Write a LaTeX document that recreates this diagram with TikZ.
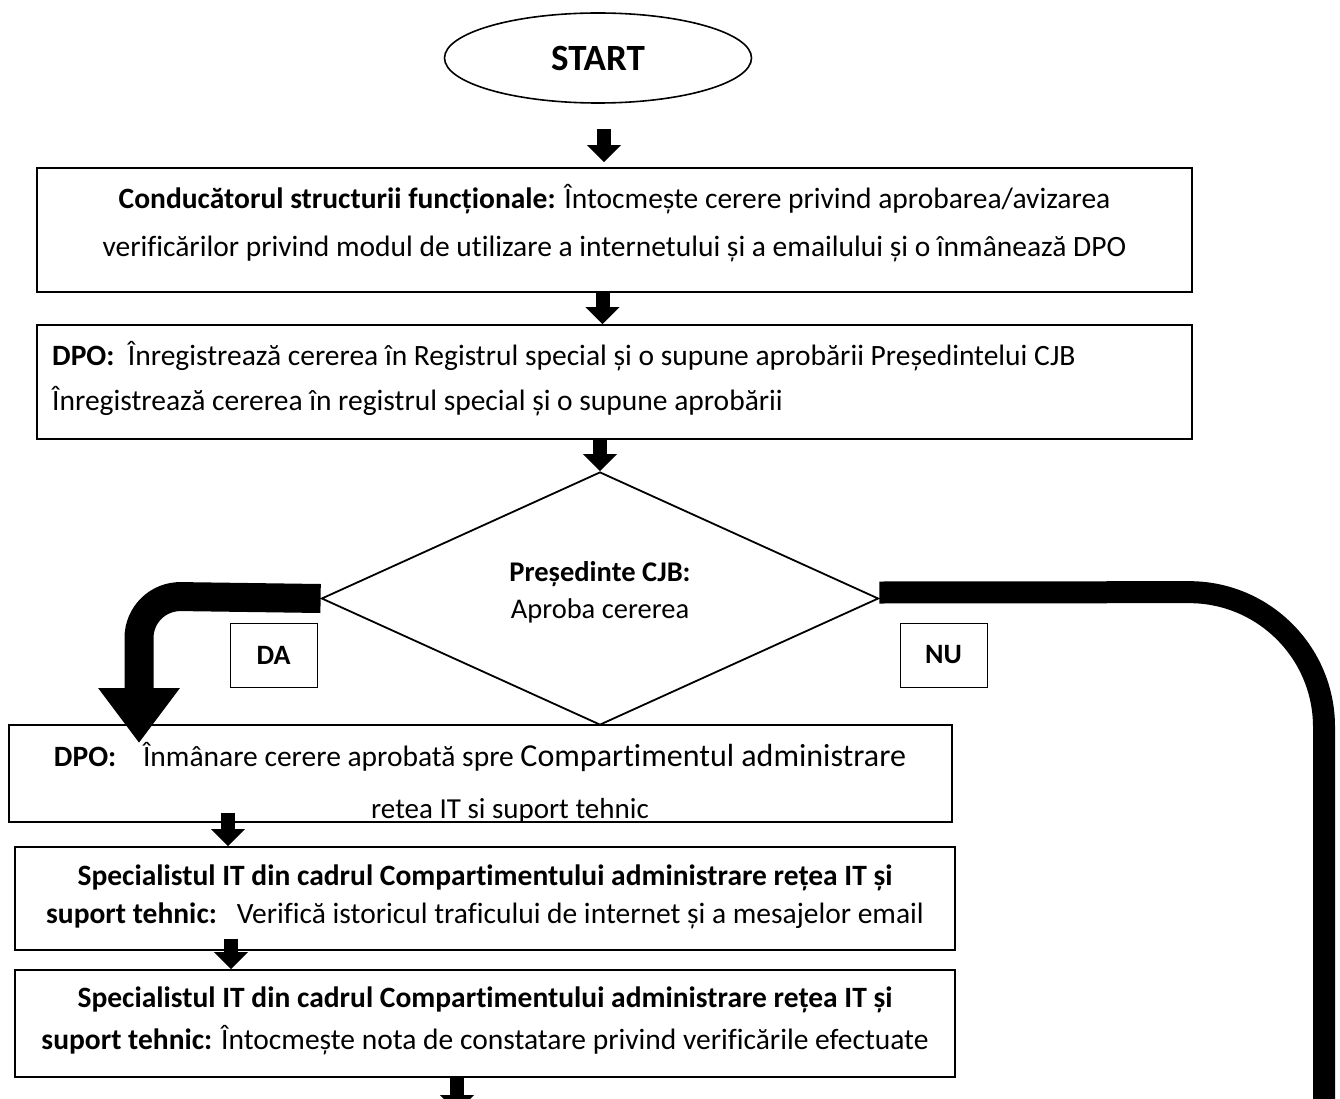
\documentclass[tikz,border=0pt]{standalone}
\usepackage{fontspec}
\setmainfont{Carlito}[Ligatures=NoCommon]
\usetikzlibrary{arrows.meta, positioning, shapes.geometric}

\begin{document}
\begin{tikzpicture}[x=1pt, y=-1pt,
    stepbox/.style={draw=black, line width=1.8pt, rectangle, inner sep=0pt},
    labelbox/.style={draw=black, line width=0.9pt, rectangle, inner sep=0pt,
        minimum width=87pt, minimum height=64pt,
        font=\fontsize{28}{30}\selectfont\bfseries},
    txt/.style={inner sep=0pt, align=center},
    flowarrow/.style={line width=14pt, -{Triangle[width=33pt,length=17pt]}},
    bigline/.style={line width=29pt}
]
    \useasboundingbox (0,0) rectangle (1340,1099);

    % start and boxes
    \node[ellipse, draw=black, line width=1.6pt, minimum width=307pt, minimum height=90pt,
        inner sep=0pt, font=\fontsize{37}{40}\selectfont\bfseries] (start) at (598,58) {START};
    \node[stepbox, minimum width=1155pt, minimum height=124pt] (cond) at (614.5,230) {};
    \node[stepbox, minimum width=1155pt, minimum height=114pt] (reg) at (614.5,382) {};
    \node[diamond, draw=black, line width=1.8pt, minimum width=557pt, minimum height=253pt,
        inner sep=0pt] (pres) at (600,598.5) {};
    \node[labelbox] (da) at (273.5,655) {DA};
    \node[labelbox] (nu) at (943.5,655) {NU};
    \node[stepbox, minimum width=943pt, minimum height=97pt] (dpo) at (480.5,773.5) {};
    \node[stepbox, minimum width=940pt, minimum height=103pt] (verif) at (485,898.5) {};
    \node[stepbox, minimum width=940pt, minimum height=107pt] (nota) at (485,1023.5) {};

    % texts
    \node[txt, font=\fontsize{29.5}{48}\selectfont] (condt) at (cond.center |- 0,223)
        {\textbf{Conducătorul structurii funcționale:} Întocmește cerere privind aprobarea/avizarea\\
         verificărilor privind modul de utilizare a internetului și a emailului și o înmânează DPO};
    \node[txt, align=left, anchor=west, font=\fontsize{29.5}{45}\selectfont] (regt) at (52,379)
        {\textbf{DPO:}\ \ Înregistrează cererea în Registrul special și o supune aprobării Președintelui CJB\\
         Înregistrează cererea în registrul special și o supune aprobării};
    \node[txt, font=\fontsize{28.5}{37}\selectfont] (prest) at (600,592)
        {\textbf{Președinte CJB:}\\Aproba cererea};
    \node[txt, font=\fontsize{29.5}{34}\selectfont] (dpot) at (480,757)
        {\textbf{DPO:}\ \ \ \ Înmânare cerere aprobată spre {\fontsize{32}{34}\selectfont Compartimentul administrare}};
    \begin{scope}
        \clip (dpo.north west) rectangle (dpo.south east);
        \node[txt, font=\fontsize{29}{32}\selectfont] (dpot2) at (510,811) {retea IT si suport tehnic};
    \end{scope}
    \node[stepbox, minimum width=943pt, minimum height=97pt] at (dpo.center) {};
    \node[txt, font=\fontsize{29.5}{38}\selectfont] (verift) at (485,897)
        {\textbf{Specialistul IT din cadrul Compartimentului administrare rețea IT și}\\
         \textbf{suport tehnic:}\ \ \ Verifică istoricul traficului de internet și a mesajelor email};
    \node[txt, font=\fontsize{29.5}{42}\selectfont] (notat) at (485,1020.5)
        {\textbf{Specialistul IT din cadrul Compartimentului administrare rețea IT și}\\
         \textbf{suport tehnic:} Întocmește nota de constatare privind verificările efectuate};

    % connectors
    \coordinate (dacorner) at (139,596);
    \coordinate (datip) at (139,743);
    \coordinate (nucorner) at (1324,592);
    \coordinate (nuend) at (1324,1105);
    \coordinate (outend) at (457,1112);

    \draw[flowarrow, shorten <=25pt, shorten >=5pt] ([xshift=6pt]start.south) -- ([xshift=6pt]start.south |- cond.north);
    \draw[flowarrow] ([xshift=-12pt]cond.south) -- ([xshift=-12pt]cond.south |- reg.north);
    \draw[flowarrow] (reg.south -| pres.north) -- (pres.north);
    \draw[bigline, rounded corners=42pt, -{Triangle[width=78pt,length=55pt]}] (pres.west) -- (dacorner) -- (datip);
    \draw[line width=22pt, rounded corners=135pt] ([yshift=6pt]pres.east) -- (nucorner) -- (nuend);
    \draw[flowarrow, shorten <=-10pt] (dpo.south -| 228,0) -- (verif.north -| 228,0);
    \draw[flowarrow, shorten <=-12pt] (verif.south -| 231,0) -- (nota.north -| 231,0);
    \draw[flowarrow] (nota.south -| outend) -- (outend);
\end{tikzpicture}
\end{document}
